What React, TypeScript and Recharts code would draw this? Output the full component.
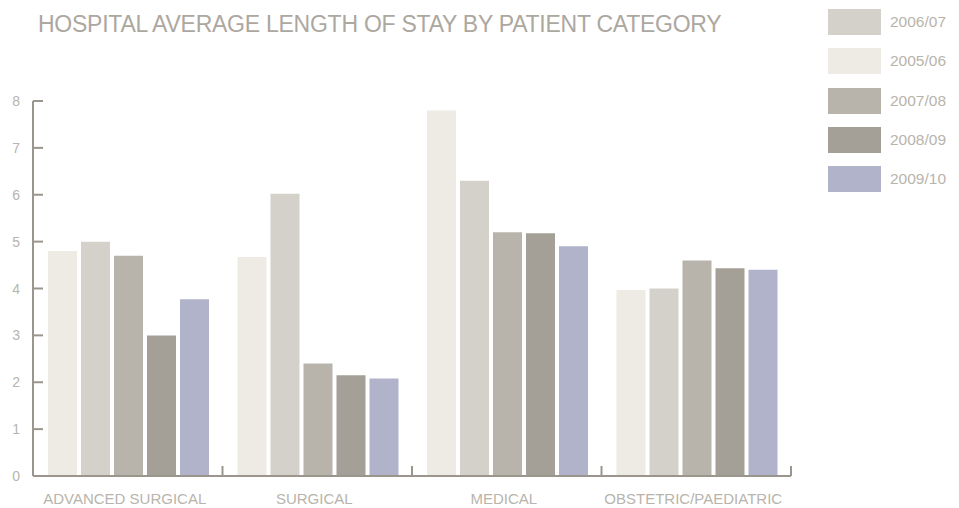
import React from "react"
import { BarChart, Bar, XAxis, YAxis } from "recharts"

const categories = ["ADVANCED SURGICAL", "SURGICAL", "MEDICAL", "OBSTETRIC/PAEDIATRIC"]
const y2005 = [4.8, 4.67, 7.8, 3.97]
const y2006 = [5.0, 6.02, 6.3, 4.0]
const y2007 = [4.7, 2.4, 5.2, 4.6]
const y2008 = [3.0, 2.15, 5.18, 4.43]
const y2009 = [3.77, 2.08, 4.9, 4.4]
const yTicks = [0, 1, 2, 3, 4, 5, 6, 7, 8]

const series = [
  { key: "2005/06", values: y2005, color: "#eeebe4" },
  { key: "2006/07", values: y2006, color: "#d4d1ca" },
  { key: "2007/08", values: y2007, color: "#b8b4ac" },
  { key: "2008/09", values: y2008, color: "#a49f97" },
  { key: "2009/10", values: y2009, color: "#b0b3c9" },
]
const legendOrder = ["2006/07", "2005/06", "2007/08", "2008/09", "2009/10"]

const data = categories.map((name, i) => {
  const row: Record<string, string | number> = { name }
  series.forEach((s) => (row[s.key] = s.values[i]))
  return row
})

const W = 959
const H = 508
const M = { top: 101, right: 168, left: 0, bottom: 0 }
const Y_W = 33
const AXIS = "#9a968d"
const TEXT = "#b8b4ac"
const FONT = "'Liberation Sans', Arial, sans-serif"
const band = (W - M.right - Y_W) / categories.length

const YTick = (props: any) => {
  const { x, y, payload } = props
  return (
    <g>
      <line x1={x} x2={x + 10} y1={y} y2={y} stroke={AXIS} strokeWidth={2} />
      <text x={x - 13} y={y} dy={5} textAnchor="end" fill={TEXT} fontSize={14} fontFamily={FONT}>
        {payload.value}
      </text>
    </g>
  )
}

const XTick = (props: any) => {
  const { x, y, payload } = props
  const right = x + band / 2
  return (
    <g>
      <line x1={right} x2={right} y1={y} y2={y - 10} stroke={AXIS} strokeWidth={2} />
      <text x={x - 3} y={y} dy={28} textAnchor="middle" fill={TEXT} fontSize={15} fontFamily={FONT}>
        {payload.value}
      </text>
    </g>
  )
}

const LegendBox = () => (
  <div style={{ position: "absolute", left: 828, top: 9 }}>
    {legendOrder.map((k) => {
      const s = series.find((d) => d.key === k)!
      return (
        <div key={k} style={{ display: "flex", alignItems: "center", height: 26, marginBottom: 13.3 }}>
          <div style={{ width: 53, height: 26, background: s.color }} />
          <span style={{ marginLeft: 9, color: TEXT, fontSize: 15.5, fontFamily: FONT }}>{k}</span>
        </div>
      )
    })}
  </div>
)

export default function App() {
  return (
    <div style={{ position: "absolute", left: 0, top: 0, width: W, height: H, background: "#fff" }}>
      <div
        style={{
          position: "absolute",
          left: 38,
          top: 11,
          fontFamily: FONT,
          fontSize: 23,
          color: "#aca79f",
          whiteSpace: "nowrap",
          letterSpacing: -0.25,
        }}
      >
        HOSPITAL AVERAGE LENGTH OF STAY BY PATIENT CATEGORY
      </div>
      <LegendBox />
      <BarChart width={W} height={H} data={data} margin={M} barCategoryGap={15} barGap={4}>
        <XAxis
          dataKey="name"
          height={32}
          stroke={AXIS}
          strokeWidth={2}
          tickLine={false}
          tickSize={0}
          tickMargin={0}
          tick={<XTick />}
          interval={0}
        />
        <YAxis
          width={Y_W}
          domain={[0, 8]}
          ticks={yTicks}
          stroke={AXIS}
          strokeWidth={2}
          tickLine={false}
          tickSize={0}
          tickMargin={0}
          tick={<YTick />}
          interval={0}
        />
        {series.map((s) => (
          <Bar key={s.key} dataKey={s.key} fill={s.color} isAnimationActive={false} />
        ))}
      </BarChart>
    </div>
  )
}
